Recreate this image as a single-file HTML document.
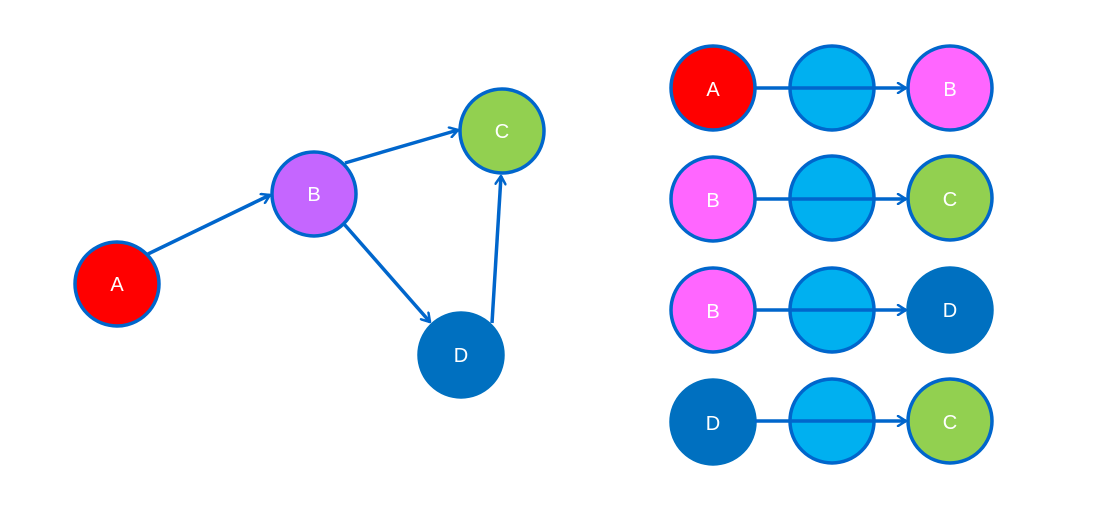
<!DOCTYPE html>
<html><head><style>html,body{margin:0;padding:0;background:#fff}svg{display:block}</style></head>
<body>
<svg width="1099" height="506" viewBox="0 0 1099 506" xmlns="http://www.w3.org/2000/svg">
<defs>
<marker id="ar" viewBox="0 0 12 12" refX="10" refY="6" markerWidth="12" markerHeight="12" markerUnits="userSpaceOnUse" orient="auto">
<path d="M2,1 L10,6 L2,11" fill="none" stroke="#0066CC" stroke-width="2.5" stroke-linecap="round" stroke-linejoin="round"/>
</marker>
</defs>
<g stroke="#0066CC" stroke-width="3.5">
<circle cx="117" cy="284" r="42" fill="#FF0000"/>
<circle cx="314" cy="194" r="42" fill="#C566FF"/>
<circle cx="502" cy="131" r="42" fill="#92D050"/>
<circle cx="461" cy="355" r="42" fill="#0070C0" stroke="#0070C0"/>
</g>
<g stroke="#0066CC" stroke-width="3.5" fill="none" marker-end="url(#ar)">
<line x1="148" y1="254" x2="270" y2="195"/>
<line x1="345" y1="163" x2="458" y2="130"/>
<line x1="344" y1="224" x2="430" y2="322"/>
<line x1="492" y1="323" x2="501" y2="176"/>
</g>
<g stroke="#0066CC" stroke-width="3.5">
<circle cx="713" cy="88" r="42" fill="#FF0000"/>
<circle cx="832" cy="88" r="42" fill="#00B0F0"/>
<circle cx="950" cy="88" r="42" fill="#FF66FF"/>
<circle cx="713" cy="199" r="42" fill="#FF66FF"/>
<circle cx="832" cy="198" r="42" fill="#00B0F0"/>
<circle cx="950" cy="198" r="42" fill="#92D050"/>
<circle cx="713" cy="310" r="42" fill="#FF66FF"/>
<circle cx="832" cy="310" r="42" fill="#00B0F0"/>
<circle cx="950" cy="310" r="42" fill="#0070C0" stroke="#0070C0"/>
<circle cx="713" cy="422" r="42" fill="#0070C0" stroke="#0070C0"/>
<circle cx="832" cy="421" r="42" fill="#00B0F0"/>
<circle cx="950" cy="421" r="42" fill="#92D050"/>
</g>
<g stroke="#0066CC" stroke-width="3.5" fill="none" marker-end="url(#ar)">
<line x1="755" y1="88" x2="906" y2="88"/>
<line x1="755" y1="199" x2="906" y2="199"/>
<line x1="755" y1="310" x2="906" y2="310"/>
<line x1="755" y1="421" x2="906" y2="421"/>
</g>
<g font-family="Liberation Sans, sans-serif" font-size="20" fill="#fff" text-anchor="middle">
<text x="117" y="291">A</text>
<text x="314" y="201">B</text>
<text x="502" y="138">C</text>
<text x="461" y="362">D</text>
<text x="713" y="96">A</text>
<text x="950" y="96">B</text>
<text x="713" y="207">B</text>
<text x="950" y="206">C</text>
<text x="713" y="318">B</text>
<text x="950" y="317">D</text>
<text x="713" y="430">D</text>
<text x="950" y="429">C</text>
</g>
</svg>
</body></html>
